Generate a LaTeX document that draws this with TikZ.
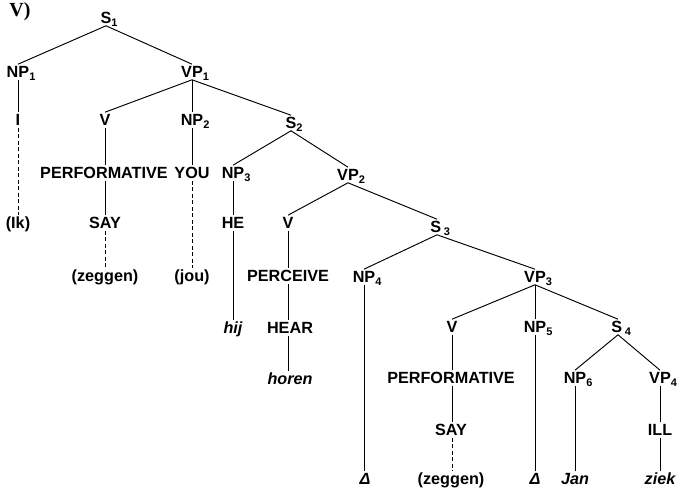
\documentclass[tikz,border=0pt]{standalone}
\usepackage{fontspec}
\setmainfont{Liberation Sans}
\newfontfamily\labelserif{Liberation Serif}
\newcommand\sbs[1]{\rlap{\raisebox{-3.5pt}{\fontsize{11}{11}\selectfont #1}}}
\tikzset{
  lab/.style={inner sep=1.2pt, text height=11.8pt, text depth=1pt, font=\fontsize{16.2}{17}\selectfont\bfseries},
  itl/.style={lab, font=\fontsize{16.2}{17}\selectfont\bfseries\itshape},
  br/.style={line width=0.95pt},
  dsh/.style={line width=0.95pt, dash pattern=on 4pt off 2.5pt}
}
\begin{document}
\begin{tikzpicture}[x=1pt,y=-1pt]
\useasboundingbox (0,0) rectangle (677,489);
\node[font=\fontsize{20}{20}\selectfont\bfseries\labelserif, inner sep=0pt] (tag) at (20,12) {V)};
% level nodes
\node[lab] (S1) at (106,18) {S\sbs{1}};
\node[lab] (NP1) at (18,72) {NP\sbs{1}};
\node[lab] (VP1) at (192,72) {VP\sbs{1}};
\node[lab] (I) at (18,120) {I};
\node[lab] (V1) at (105,120) {V};
\node[lab] (NP2) at (192,120) {NP\sbs{2}};
\node[lab] (S2) at (291,123) {S\sbs{2}};
\node[lab] (PERF1) at (104,173) {PERFORMATIVE};
\node[lab] (YOU) at (192,173) {YOU};
\node[lab] (NP3) at (233,173) {NP\sbs{3}};
\node[lab] (VP2) at (348,175) {VP\sbs{2}};
\node[lab] (IK) at (18,223) {(Ik)};
\node[lab] (SAY1) at (105,223) {SAY};
\node[lab] (HE) at (233,223) {HE};
\node[lab] (V2) at (288,223) {V};
\node[lab] (S3) at (437,227) {S\,\sbs{3}};
\node[lab] (ZEG1) at (105,276) {(zeggen)};
\node[lab] (JOU) at (192,276) {(jou)};
\node[lab] (PERC) at (288,276) {PERCEIVE};
\node[lab] (NP4) at (364,277) {NP\sbs{4}};
\node[lab] (VP3) at (535,277) {VP\sbs{3}};
\node[itl] (HIJ) at (233,328) {hij};
\node[lab] (HEAR) at (290,328) {HEAR};
\node[lab] (V3) at (452,327) {V};
\node[lab] (NP5) at (535,327) {NP\sbs{5}};
\node[lab] (S4) at (618,327) {S\,\sbs{4}};
\node[itl] (HOREN) at (290,379) {horen};
\node[lab] (PERF2) at (451,378) {PERFORMATIVE};
\node[lab] (NP6) at (575,378) {NP\sbs{6}};
\node[lab] (VP4) at (660,378) {VP\sbs{4}};
\node[lab] (SAY2) at (451,430) {SAY};
\node[lab] (ILL) at (660,430) {ILL};
\node[itl] (D1) at (365,479) {Δ};
\node[lab] (ZEG2) at (451,479) {(zeggen)};
\node[itl] (D2) at (535,479) {Δ};
\node[itl] (JAN) at (575,479) {Jan};
\node[itl] (ZIEK) at (660,479) {ziek};
% branches
\draw[br] (NP1.north) -- (S1.south) -- (VP1.north);
\draw[br] (V1.north) -- (VP1.south) -- (S2.north);
\draw[br] (VP1.south) -- (NP2.north);
\draw[br] (NP3.north) -- (S2.south) -- (VP2.north);
\draw[br] (V2.north) -- (VP2.south) -- (S3.north);
\draw[br] (NP4.north) -- (S3.south) -- (VP3.north);
\draw[br] (V3.north) -- (VP3.south) -- (S4.north);
\draw[br] (VP3.south) -- (NP5.north);
\draw[br] (NP6.north) -- (S4.south) -- (VP4.north);
% vertical chains
\draw[br] (NP1.south) -- (I.north);
\draw[dsh] (I.south) -- (IK.north);
\draw[br] (V1.south) -- (PERF1.north -| V1.south);
\draw[br] (PERF1.south -| V1.south) -- (SAY1.north);
\draw[dsh] (SAY1.south) -- (ZEG1.north);
\draw[br] (NP2.south) -- (YOU.north);
\draw[dsh] (YOU.south) -- (JOU.north);
\draw[br] (NP3.south) -- (HE.north);
\draw[br] (HE.south) -- (HIJ.north);
\draw[br] (V2.south) -- (PERC.north);
\draw[br] (PERC.south) -- (HEAR.north -| PERC.south);
\draw[br] (HEAR.south -| PERC.south) -- (HOREN.north -| PERC.south);
\draw[br] (NP4.south) -- (D1.north -| NP4.south);
\draw[br] (V3.south) -- (PERF2.north -| V3.south);
\draw[br] (PERF2.south -| V3.south) -- (SAY2.north -| V3.south);
\draw[dsh] (SAY2.south -| V3.south) -- (ZEG2.north -| V3.south);
\draw[br] (NP5.south) -- (D2.north);
\draw[br] (NP6.south) -- (JAN.north);
\draw[br] (VP4.south) -- (ILL.north);
\draw[br] (ILL.south) -- (ZIEK.north);
\end{tikzpicture}
\end{document}
